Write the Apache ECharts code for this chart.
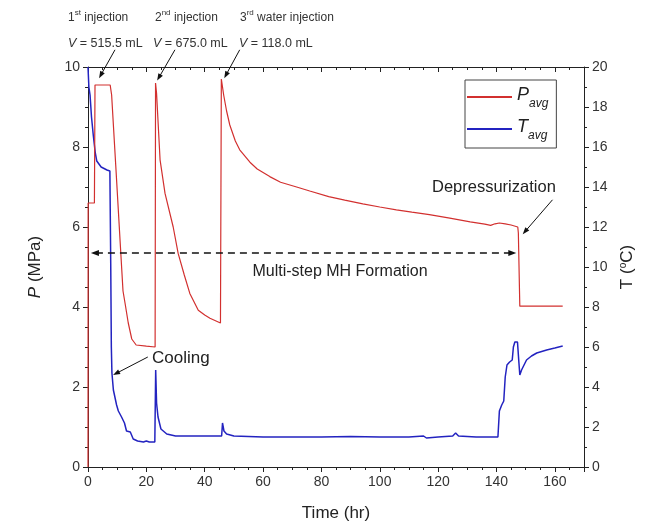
<!DOCTYPE html>
<html><head><meta charset="utf-8">
<script src="https://cdn.jsdelivr.net/npm/echarts@6/dist/echarts.min.js"></script>
<style>html,body{margin:0;padding:0;background:#fff}#c{width:657px;height:531px}</style>
</head><body><div id="c"></div>
<script>
// ---- data ----
const pTime = [0, 0.05, 2.2, 2.4, 7.6, 8.1, 9.5, 11, 12, 12.8, 13.8, 15, 16.5, 20, 23.0, 23.15, 23.5, 24.7, 26.4, 29.2, 30.9, 33, 34.9, 37.8, 40, 41.8, 45.4, 45.7, 46.5, 47.5, 48.6, 50.5, 52, 55.5, 58, 62.3, 66, 71.5, 76, 82.5, 88, 94.2, 100, 105.7, 111, 117, 124, 131, 136, 138, 139.5, 141, 143, 145, 147.3, 147.5, 148, 155, 162.7];
const pAvg  = [0, 6.6, 6.6, 9.55, 9.55, 9.3, 7.55, 5.65, 4.4, 4.05, 3.6, 3.2, 3.05, 3.02, 3.0, 9.6, 9.34, 7.68, 6.84, 6.0, 5.34, 4.8, 4.34, 3.92, 3.8, 3.72, 3.6, 9.7, 9.3, 8.9, 8.55, 8.15, 7.93, 7.62, 7.45, 7.26, 7.12, 7.0, 6.9, 6.76, 6.67, 6.58, 6.5, 6.43, 6.37, 6.31, 6.22, 6.13, 6.07, 6.04, 6.08, 6.1, 6.08, 6.05, 6.0, 5.85, 4.02, 4.02, 4.02];
const tTime = [0, 0.3, 0.7, 1.2, 1.8, 2.5, 3, 4.5, 6.5, 7.5, 7.8, 8.0, 8.2, 8.7, 9.8, 10.4, 11.5, 12.5, 13.2, 14.5, 15.5, 17, 19, 20, 21, 22.9, 23.2, 23.5, 24, 25, 27, 30, 35, 42, 42.5, 43, 45.8, 46.1, 46.6, 47.5, 50, 60, 70, 80, 90, 100, 110, 115, 116, 120, 125, 126, 127, 133, 140.5, 141, 141.8, 142.5, 143, 143.6, 144.5, 145.4, 145.8, 146.3, 147.2, 147.7, 148, 148.6, 150.3, 152, 153.8, 157.2, 160, 162.7];
const tAvg  = [20, 19, 18.6, 17.5, 16.6, 15.7, 15.3, 15.0, 14.85, 14.8, 10, 6, 4.7, 3.85, 3.1, 2.8, 2.5, 2.2, 1.8, 1.75, 1.4, 1.3, 1.25, 1.3, 1.25, 1.25, 4.85, 3.2, 2.5, 1.9, 1.65, 1.55, 1.55, 1.55, 1.65, 1.55, 1.55, 2.2, 1.8, 1.65, 1.55, 1.5, 1.5, 1.5, 1.52, 1.5, 1.5, 1.55, 1.45, 1.5, 1.55, 1.7, 1.55, 1.5, 1.5, 2.8, 3.1, 3.3, 4.5, 5.1, 5.25, 5.35, 6.0, 6.25, 6.25, 5.2, 4.6, 4.85, 5.35, 5.55, 5.7, 5.85, 5.95, 6.05];
const xRange = [0, 170];
const pRange = [0, 10];
const tRange = [0, 20];
const formationP = 5.35;          // level of the dashed double arrow
const formationSpan = [1, 146.8]; // hours
// annotation arrows: [fromT, fromY, toT, toY] in P-axis units (Cooling uses T axis)
const injArrows = [[9.25, 10.43, 3.8, 9.72], [29.8, 10.43, 23.7, 9.66], [52, 10.43, 46.7, 9.72]];
const depArrow = [159.2, 6.68, 149, 5.82];
const coolArrow = [20.5, 5.5, 8.6, 4.6];

const FONT = '"Liberation Sans", Arial, sans-serif';
const INK = '#222';
const chart = echarts.init(document.getElementById('c'));

const axisCommon = {
  type: 'value',
  axisLine: { show: true, onZero: false, lineStyle: { color: INK, width: 1 } },
  splitLine: { show: false },
  axisLabel: { fontSize: 14, color: '#333', fontFamily: FONT },
  nameTextStyle: { fontSize: 17, color: INK, fontFamily: FONT }
};

const option = {
  animation: false,
  backgroundColor: '#fff',
  grid: { left: 88, right: 73, top: 67, bottom: 64 },
  xAxis: [
    Object.assign({}, axisCommon, {
      min: xRange[0], max: xRange[1], interval: 20, position: 'bottom',
      name: 'Time (hr)', nameLocation: 'middle', nameGap: 38,
      axisTick: { inside: false, length: 5, lineStyle: { color: INK } },
      minorTick: { show: true, splitNumber: 4, length: 3, lineStyle: { color: INK } },
      axisLabel: Object.assign({}, axisCommon.axisLabel, { margin: 8, showMaxLabel: false })
    }),
    Object.assign({}, axisCommon, {
      min: xRange[0], max: xRange[1], interval: 20, position: 'top',
      axisTick: { inside: true, length: 5, lineStyle: { color: INK } },
      minorTick: { show: true, splitNumber: 4, length: 3, lineStyle: { color: INK } },
      axisLabel: { show: false }
    })
  ],
  yAxis: [
    Object.assign({}, axisCommon, {
      min: pRange[0], max: pRange[1], interval: 2, position: 'left',
      name: '{i|P} (MPa)', nameLocation: 'middle', nameGap: 44, nameRotate: 90,
      nameTextStyle: Object.assign({}, axisCommon.nameTextStyle, { rich: { i: { fontSize: 17, fontStyle: 'italic', fontFamily: FONT, color: INK } } }),
      axisTick: { inside: false, length: 5, lineStyle: { color: INK } },
      minorTick: { show: true, splitNumber: 4, length: 3, lineStyle: { color: INK } },
      axisLabel: Object.assign({}, axisCommon.axisLabel, { margin: 8 })
    }),
    Object.assign({}, axisCommon, {
      min: tRange[0], max: tRange[1], interval: 2, position: 'right',
      name: 'T ({s|o}C)', nameLocation: 'middle', nameGap: 34, nameRotate: 90,
      nameTextStyle: Object.assign({}, axisCommon.nameTextStyle, { rich: { s: { fontSize: 10, fontFamily: FONT, color: INK, verticalAlign: 'top', lineHeight: 10 } } }),
      axisTick: { inside: false, length: 5, lineStyle: { color: INK } },
      minorTick: { show: true, splitNumber: 2, length: 3, lineStyle: { color: INK } },
      axisLabel: Object.assign({}, axisCommon.axisLabel, { margin: 8 })
    })
  ],
  legend: {
    left: 465, top: 80, orient: 'vertical',
    itemWidth: 45, itemHeight: 2, itemGap: 8,
    borderColor: '#444', borderWidth: 1, padding: [6, 8, 6, 2],
    formatter: n => '{i|' + n + '}{s|avg}',
    textStyle: {
      color: INK, fontFamily: FONT,
      rich: {
        i: { fontSize: 18, fontStyle: 'italic', fontFamily: FONT, color: INK, lineHeight: 22, verticalAlign: 'top' },
        s: { fontSize: 12, fontStyle: 'italic', fontFamily: FONT, color: INK, lineHeight: 12, padding: [12, 0, 0, 0], verticalAlign: 'top' }
      }
    },
    data: [{ name: 'P', icon: 'rect' }, { name: 'T', icon: 'rect' }]
  },
  series: [
    { name: 'P', type: 'line', xAxisIndex: 0, yAxisIndex: 0, showSymbol: false, symbol: 'none',
      data: pTime.map((t, i) => [t, pAvg[i]]),
      lineStyle: { color: '#d2302f', width: 1.2 }, itemStyle: { color: '#d2302f' }, z: 3 },
    { name: 'T', type: 'line', xAxisIndex: 0, yAxisIndex: 1, showSymbol: false, symbol: 'none',
      data: tTime.map((t, i) => [t, tAvg[i]]),
      lineStyle: { color: '#2323c0', width: 1.5 }, itemStyle: { color: '#2323c0' }, z: 2 }
  ]
};
chart.setOption(option);

// ---- annotations, positioned through the axes ----
const toPxP = (t, v) => chart.convertToPixel({ xAxisIndex: 0, yAxisIndex: 0 }, [t, v]);
const toPxT = (t, v) => chart.convertToPixel({ xAxisIndex: 0, yAxisIndex: 1 }, [t, v]);

function head(tip, from, len, half) {
  const dx = tip[0] - from[0], dy = tip[1] - from[1];
  const L = Math.hypot(dx, dy), ux = dx / L, uy = dy / L;
  const bx = tip[0] - ux * len, by = tip[1] - uy * len;
  return { type: 'polygon', z: 100, silent: true,
    shape: { points: [tip, [bx - uy * half, by + ux * half], [bx + uy * half, by - ux * half]] },
    style: { fill: '#111' } };
}
function arrow(a, b, dash) {
  const dx = b[0] - a[0], dy = b[1] - a[1], L = Math.hypot(dx, dy);
  const e = [b[0] - dx / L * 4, b[1] - dy / L * 4];
  return [
    { type: 'line', z: 100, silent: true, shape: { x1: a[0], y1: a[1], x2: e[0], y2: e[1] },
      style: { stroke: '#111', lineWidth: 1, lineDash: dash || null } },
    head(b, a, 7, 2.6)
  ];
}
const g = [];
injArrows.forEach(r => g.push(...arrow(toPxP(r[0], r[1]), toPxP(r[2], r[3]))));
g.push(...arrow(toPxP(depArrow[0], depArrow[1]), toPxP(depArrow[2], depArrow[3])));
g.push(...arrow(toPxT(coolArrow[0], coolArrow[1]), toPxT(coolArrow[2], coolArrow[3])));
// dashed double arrow
const d0 = toPxP(formationSpan[0], formationP), d1 = toPxP(formationSpan[1], formationP);
g.push({ type: 'line', z: 100, silent: true, shape: { x1: d0[0] + 5, y1: d0[1], x2: d1[0] - 5, y2: d1[1] },
  style: { stroke: '#111', lineWidth: 1.3, lineDash: [7, 5] } });
g.push(head(d0, d1, 8, 3), head(d1, d0, 8, 3));

const supRich = {
  n: { fontSize: 12, fontFamily: FONT, fill: '#333', lineHeight: 15, verticalAlign: 'bottom' },
  s: { fontSize: 8, fontFamily: FONT, fill: '#333', lineHeight: 15, verticalAlign: 'top' },
  m: { fontSize: 12.5, fontFamily: FONT, fill: '#333', lineHeight: 15 },
  v: { fontSize: 12.5, fontFamily: FONT, fill: '#333', fontStyle: 'italic', lineHeight: 15 }
};
function txt(x, y, text, extra) {
  return Object.assign({ type: 'text', z: 100, silent: true, x: x, y: y,
    style: Object.assign({ text: text, fontFamily: FONT, fill: '#222', fontSize: 16 }, extra || {}) });
}
g.push(txt(68, 9, '{n|1}{s|st}{n| injection}', { rich: supRich }));
g.push(txt(155, 9, '{n|2}{s|nd}{n| injection}', { rich: supRich }));
g.push(txt(240, 9, '{n|3}{s|rd}{n| water injection}', { rich: supRich }));
g.push(txt(68, 36, '{v|V}{m| = 515.5 mL}', { rich: supRich }));
g.push(txt(153, 36, '{v|V}{m| = 675.0 mL}', { rich: supRich }));
g.push(txt(239, 36, '{v|V}{m| = 118.0 mL}', { rich: supRich }));
g.push(txt(432, 187, 'Depressurization', { align: 'left', verticalAlign: 'middle', fontSize: 16.5 }));
g.push(txt(340, 272, 'Multi-step MH Formation', { align: 'center', verticalAlign: 'middle' }));
g.push(txt(152, 358, 'Cooling', { align: 'left', verticalAlign: 'middle', fontSize: 17 }));
chart.setOption({ graphic: g });
</script>
</body></html>
